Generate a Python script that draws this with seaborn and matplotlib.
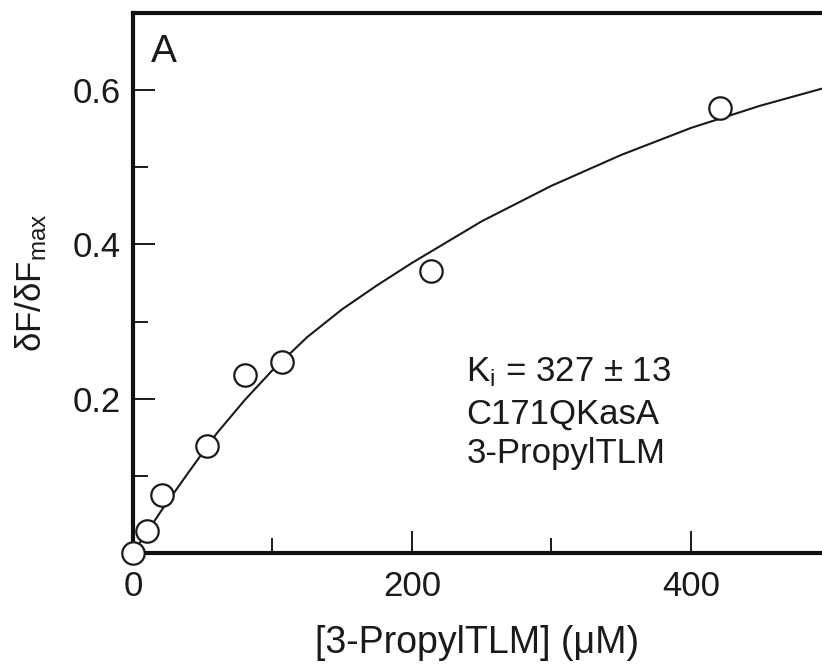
import numpy as np
import pandas as pd
import matplotlib
matplotlib.use('Agg')
import matplotlib.pyplot as plt
import seaborn as sns

# measured points
conc = [0, 10, 21, 53, 80, 107, 214, 421]
frac = [0.0, 0.029, 0.075, 0.139, 0.231, 0.248, 0.365, 0.577]

# fitted curve
fit_conc = [0, 10, 20, 40, 60, 80, 100, 125, 150, 175, 200, 250, 300, 350, 400, 450, 494]
fit_frac = [0.0, 0.027, 0.054, 0.105, 0.155, 0.198, 0.237, 0.280, 0.316, 0.347,
            0.376, 0.430, 0.476, 0.516, 0.551, 0.580, 0.602]

x_ticks = [0, 200, 400]
y_ticks = [0.2, 0.4, 0.6]
notes = ['K$_{\\mathrm{i}}$ = 327 ± 13', 'C171QKasA', '3-PropylTLM']

sns.set_theme(style='ticks')
plt.rcParams['font.family'] = ['Liberation Sans', 'DejaVu Sans']
plt.rcParams['mathtext.fontset'] = 'custom'
plt.rcParams['mathtext.rm'] = 'Liberation Sans'
plt.rcParams['mathtext.it'] = 'Liberation Sans:italic'

fig = plt.figure(figsize=(8.22, 6.68), dpi=100)
ax = fig.add_axes([0.1618, 0.1722, 0.8382, 0.8083])

pts = pd.DataFrame({'conc': conc, 'frac': frac})
fit = pd.DataFrame({'conc': fit_conc, 'frac': fit_frac})

sns.lineplot(data=fit, x='conc', y='frac', ax=ax, color='#1a1a1a', linewidth=1.5,
             sort=False, zorder=2)
sns.scatterplot(data=pts, x='conc', y='frac', ax=ax, marker='o', s=260,
                facecolor='white', edgecolor='#1a1a1a', linewidth=1.6,
                clip_on=False, zorder=3)

ax.set_xlim(0, 494)
ax.set_ylim(0, 0.7)

ax.set_xticks(x_ticks)
ax.set_xticks([100, 300], minor=True)
ax.set_yticks(y_ticks)
ax.set_yticks([0.1, 0.3, 0.5], minor=True)
ax.set_xticklabels([str(v) for v in x_ticks])
ax.set_yticklabels([f'{v:.1f}' for v in y_ticks])

ax.tick_params(which='major', direction='in', length=16, width=1.4,
               labelsize=25, color='#1a1a1a', labelcolor='#1a1a1a')
ax.tick_params(which='minor', direction='in', length=10.5, width=1.4, color='#1a1a1a')
ax.tick_params(axis='y', which='both', pad=9, left=True, right=False)
ax.tick_params(axis='x', which='both', pad=12, bottom=True, top=False)

for side in ['left', 'bottom', 'top']:
    ax.spines[side].set_linewidth(3)
    ax.spines[side].set_color('#111111')
ax.spines['right'].set_visible(False)

ax.set_xlabel('[3-PropylTLM] (μM)', fontsize=27, color='#1a1a1a', labelpad=16)
ax.set_ylabel('δF/δF$_{\\mathrm{max}}$', fontsize=25, color='#1a1a1a', labelpad=17)

ax.text(13, 0.637, 'A', fontsize=28, color='#1a1a1a', va='baseline')
for yv, t in zip([0.223, 0.168, 0.117], notes):
    ax.text(239, yv, t, fontsize=25, color='#1a1a1a', va='baseline')

fig.savefig('out.png', dpi=100)
